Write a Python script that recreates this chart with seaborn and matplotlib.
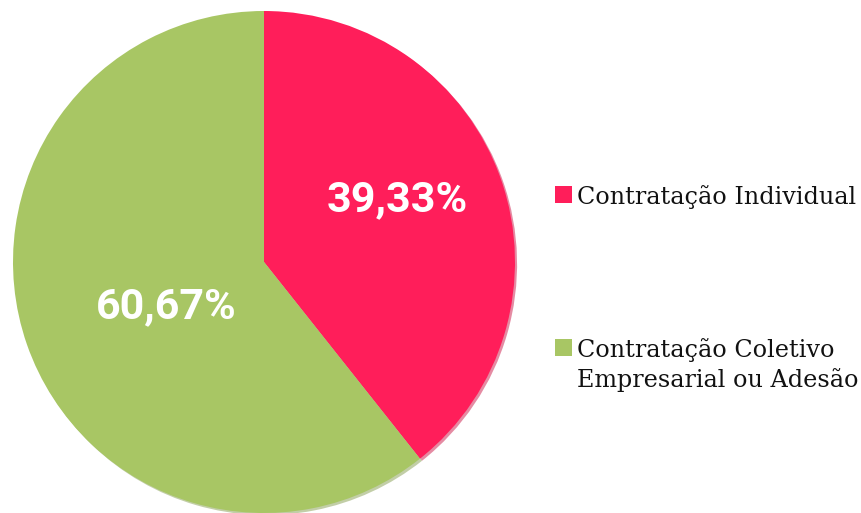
import matplotlib
matplotlib.use("Agg")
import matplotlib.pyplot as plt
from matplotlib.patches import Rectangle
import seaborn as sns

categorias = ["Contratação Individual", "Contratação Coletivo\nEmpresarial ou Adesão"]
percentuais = [39.33, 60.67]
rotulos = ["39,33%", "60,67%"]
cores = ["#FF1E5A", "#A8C664"]

sns.set_theme(style="white")
plt.rcParams["font.family"] = ["DejaVu Sans"]

W, H = 862, 513
fig = plt.figure(figsize=(W / 100, H / 100), dpi=100)
fig.patch.set_facecolor("white")

# pie: center (264, 262) px, radius 251 px
cx, cy, r = 264, 262, 251
ax = fig.add_axes([(cx - r) / W, (H - cy - r) / H, 2 * r / W, 2 * r / H])
wedges, _ = ax.pie(percentuais, colors=cores, startangle=90, counterclock=False,
                   wedgeprops=dict(linewidth=0),
                   shadow=dict(ox=0.006, oy=-0.006, shade=0.2))
ax.set_xlim(-1, 1)
ax.set_ylim(-1, 1)
ax.set_aspect("equal")
ax.axis("off")

# percent labels inside slices
pos = [(0.53, 0.25), (-0.39, -0.18)]
for txt, (x, y) in zip(rotulos, pos):
    ax.text(x, y, txt, ha="center", va="center", color="white",
            fontsize=31, fontweight="bold", family=["Roboto", "DejaVu Sans"])

# legend (square aligned with first line)
legend_y = [204, 357]
line_gap = 30
for cat, cor, base in zip(categorias, cores, legend_y):
    fig.add_artist(Rectangle((555 / W, (H - base + 1) / H), 17 / W, 17 / H,
                             transform=fig.transFigure, color=cor, linewidth=0))
    for i, linha in enumerate(cat.split("\n")):
        fig.text(577 / W, (H - base - i * line_gap) / H, linha, ha="left", va="baseline",
                 fontsize=17.2, color="#111111", family=["DejaVu Serif"])

fig.savefig("out.png", dpi=100)
